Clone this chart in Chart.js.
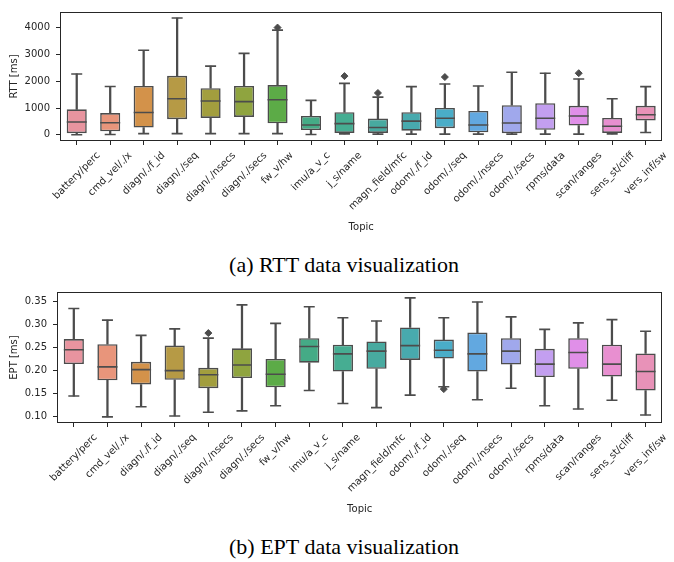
<!DOCTYPE html>
<html><head><meta charset="utf-8">
<script src="https://cdn.jsdelivr.net/npm/chart.js@4/dist/chart.umd.min.js"></script>
<style>
html,body{margin:0;padding:0;background:#fff;width:674px;height:562px;overflow:hidden;position:relative}
canvas{position:absolute;left:0}
.cap{position:absolute;width:674px;left:7px;text-align:center;font-family:"Liberation Serif","Times New Roman",serif;font-size:22px;line-height:26px;color:#000;}
</style></head><body>
<canvas id="c1" width="674" height="240" style="top:0"></canvas>
<div class="cap" style="top:252px">(a) RTT data visualization</div>
<canvas id="c2" width="674" height="242" style="top:280px"></canvas>
<div class="cap" style="top:534px">(b) EPT data visualization</div>
<script>
const topics = ['battery/perc','cmd_vel/./x','diagn/./f_id','diagn/./seq','diagn/./nsecs','diagn/./secs','fw_v/hw','imu/a_v_c','j_s/name','magn_field/mfc','odom/./f_id','odom/./seq','odom/./nsecs','odom/./secs','rpms/data','scan/ranges','sens_st/cliff','vers_inf/sw'];
const palette = ['#e8949f','#e8957b','#d3924a','#b69a45','#a29e3e','#8fa43f','#5cab47','#45ab86','#46ad92','#48aaa0','#48aaae','#4aadc8','#62a8e0','#a0a8ec','#c39ff0','#e08fe8','#e88fd0','#e892b8'];

// RTT [ms]
const rttMin = [5,10,45,45,45,45,45,15,35,25,25,25,25,25,25,25,35,85];
const rttQ1  = [60,130,274,583,631,667,428,179,71,71,155,250,95,60,190,345,71,536];
const rttMed = [476,452,833,1345,1262,1238,1310,369,417,274,512,619,369,440,619,702,321,750];
const rttQ3  = [952,810,1820,2200,1738,1820,1857,702,845,607,845,1000,893,1107,1179,1083,631,1083];
const rttMax = [2270,1800,3155,4357,2560,3036,3905,1286,1917,1405,1798,1893,1821,2333,2298,2083,1345,1798];
const rttOutTopics = ['fw_v/hw','j_s/name','magn_field/mfc','odom/./seq','scan/ranges'];
const rttOutValues = [4000,2190,1560,2155,2298];
const rttTicks = [0,1000,2000,3000,4000];

// EPT [ms]
const eptMin = [0.145,0.100,0.122,0.102,0.110,0.113,0.124,0.157,0.129,0.120,0.147,0.165,0.137,0.162,0.124,0.117,0.136,0.104];
const eptQ1  = [0.214,0.179,0.170,0.180,0.162,0.184,0.164,0.217,0.198,0.204,0.223,0.226,0.198,0.213,0.186,0.204,0.187,0.157];
const eptMed = [0.245,0.208,0.202,0.200,0.191,0.212,0.192,0.252,0.236,0.242,0.254,0.244,0.236,0.242,0.214,0.239,0.214,0.198];
const eptQ3  = [0.268,0.257,0.219,0.254,0.206,0.248,0.225,0.270,0.256,0.263,0.293,0.267,0.282,0.270,0.247,0.270,0.256,0.237];
const eptMax = [0.334,0.309,0.276,0.290,0.270,0.342,0.302,0.338,0.314,0.307,0.357,0.314,0.348,0.316,0.289,0.303,0.310,0.285];
const eptOutTopics = ['diagn/./nsecs','odom/./seq'];
const eptOutValues = [0.281,0.160];
const eptTicks = [0.10,0.15,0.20,0.25,0.30,0.35];

const LINE = '#4c4c4c';
const TXT = '#262626';
const FONT = {family:'DejaVu Sans', size:10};

const framePlugin = {
  id:'frame',
  afterDraw(chart){
    const {ctx, chartArea:a} = chart;
    ctx.save();
    ctx.strokeStyle = TXT; ctx.lineWidth = 1;
    ctx.strokeRect(Math.round(a.left)+0.5, Math.round(a.top)+0.5, Math.round(a.right-a.left)-1, Math.round(a.bottom-a.top)-1);
    ctx.restore();
  }
};
const labelPlugin = {
  id:'rotLabels',
  afterDraw(chart){
    const {ctx} = chart; const xs = chart.scales.x;
    ctx.save();
    ctx.font = '10px "DejaVu Sans"'; ctx.fillStyle = TXT;
    topics.forEach((t,i)=>{
      const x = xs.getPixelForValue(i);
      const w = ctx.measureText(t).width;
      const cy = xs.top + 9 + (w + 11) * 0.3536;
      ctx.save(); ctx.translate(x, cy); ctx.rotate(-Math.PI/4);
      ctx.textAlign = 'center'; ctx.textBaseline = 'middle';
      ctx.fillText(t, 0, 0); ctx.restore();
    });
    ctx.restore();
  }
};

function makeChart(id, d){
  const pt = (data, r, order) => ({type:'line', data, showLine:false, pointStyle:'line', pointRadius:r, pointHoverRadius:r, pointBorderColor:LINE, pointBorderWidth:1.6, order});
  return new Chart(document.getElementById(id), {
    type:'bar',
    data:{
      labels: topics,
      datasets:[
        {type:'bar', data:d.q1.map((v,i)=>[v,d.q3[i]]), backgroundColor:palette, borderColor:LINE, borderWidth:1.6, borderSkipped:false, barPercentage:0.6, categoryPercentage:1, grouped:false, order:1},
        {type:'bar', data:d.min.map((v,i)=>[v,d.q1[i]]), backgroundColor:LINE, borderWidth:0, barThickness:1.6, grouped:false, order:2},
        {type:'bar', data:d.q3.map((v,i)=>[v,d.max[i]]), backgroundColor:LINE, borderWidth:0, barThickness:1.6, grouped:false, order:2},
        pt(d.med, 10, 0),
        pt(d.min, 5.5, 0),
        pt(d.max, 5.5, 0),
        {type:'line', data:d.outT.map((t,i)=>({x:t, y:d.outV[i]})), showLine:false, pointStyle:'rectRot', pointRadius:3.5, pointHoverRadius:3.5, pointBackgroundColor:LINE, pointBorderColor:LINE, pointBorderWidth:1, order:0}
      ]
    },
    options:{
      responsive:false, animation:false,
      layout:{padding:{top:d.padTop, left:0, right:2, bottom:0}},
      plugins:{legend:{display:false}, tooltip:{enabled:false}},
      scales:{
        x:{type:'category', offset:true,
           grid:{display:true, drawOnChartArea:false, drawTicks:true, tickLength:4, color:TXT, offset:false},
           border:{display:false},
           ticks:{display:false},
           title:{display:true, text:'Topic', font:FONT, color:TXT, padding:{top:0,bottom:7}},
           afterFit:s=>{s.height = d.xH;}},
        y:{min:d.yMin, max:d.yMax,
           afterBuildTicks:s=>{s.ticks = d.ticks.map(v=>({value:v}));},
           ticks:{font:FONT, color:TXT, padding:6, callback:d.fmt},
           grid:{drawOnChartArea:false, drawTicks:true, tickLength:4, color:TXT},
           border:{display:false},
           title:{display:true, text:d.yTitle, font:FONT, color:TXT, padding:{top:8,bottom:0}},
           afterFit:s=>{s.width = d.yW;}}
      }
    },
    plugins:[framePlugin, labelPlugin]
  });
}

makeChart('c1', {min:rttMin,q1:rttQ1,med:rttMed,q3:rttQ3,max:rttMax,outT:rttOutTopics,outV:rttOutValues,
  ticks:rttTicks, fmt:v=>String(v), yMin:-230, yMax:4580, yTitle:'RTT [ms]', padTop:6, yW:60, xH:99});
makeChart('c2', {min:eptMin,q1:eptQ1,med:eptMed,q3:eptQ3,max:eptMax,outT:eptOutTopics,outV:eptOutValues,
  ticks:eptTicks, fmt:v=>Number(v).toFixed(2), yMin:0.0868, yMax:0.3697, yTitle:'EPT [ms]', padTop:8, yW:57, xH:99});
</script>
</body></html>
